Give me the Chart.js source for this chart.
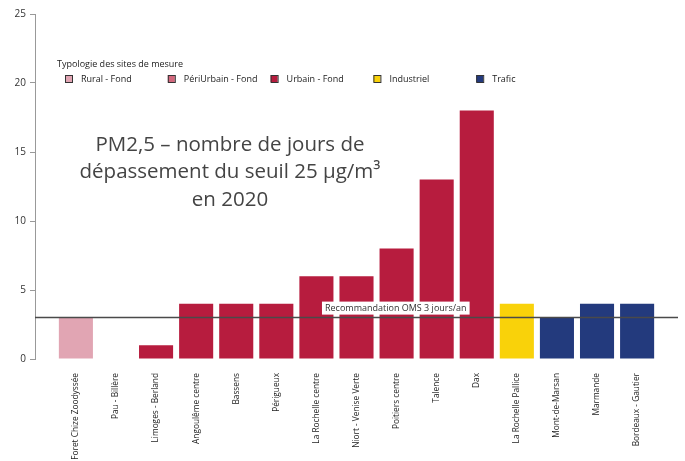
<!DOCTYPE html>
<html>
<head>
<meta charset="utf-8">
<script src="https://cdn.jsdelivr.net/npm/chart.js@4.4.1/dist/chart.umd.min.js"></script>
<style>
  html, body { margin: 0; padding: 0; background: #fff; }
  #wrap { width: 685px; height: 461px; position: relative; }
</style>
</head>
<body>
<div id="wrap"><canvas id="pm25"></canvas></div>
<script>
// Données
const sites = [
    'Foret Chize Zoodyssée', 'Pau - Billère', 'Limoges - Berland', 'Angoulême centre',
    'Bassens', 'Périgueux', 'La Rochelle centre', 'Niort - Venise Verte',
    'Poitiers centre', 'Talence', 'Dax', 'La Rochelle Pallice',
    'Mont-de-Marsan', 'Marmande', 'Bordeaux - Gautier'
];
const joursDepassement = [3, 0, 1, 4, 4, 4, 6, 6, 8, 13, 18, 4, 3, 4, 4];
const typologieSite = [0, 1, 2, 2, 2, 2, 2, 2, 2, 2, 2, 3, 4, 4, 4];
const typologies = ['Rural - Fond', 'PériUrbain - Fond', 'Urbain - Fond', 'Industriel', 'Trafic'];
const couleursTypo = ['#e1a5b3', '#d3677c', '#b71c3e', '#f9d20a', '#233a7d'];
const yTicks = [0, 5, 10, 15, 20, 25];
const seuilOms = 3;
const seuilLabel = 'Recommandation OMS 3 jours/an';
const titre = ['PM2,5 – nombre de jours de', 'dépassement du seuil 25 µg/m³', 'en 2020'];
const legendeTitre = 'Typologie des sites de mesure';

const FONT = "'Open Sans', 'Noto Sans', sans-serif";

const decorations = {
    id: 'decorations',
    afterDatasetsDraw(chart) {
        const { ctx, chartArea, scales } = chart;
        const y = scales.y.getPixelForValue(seuilOms);

        ctx.save();
        // ligne OMS
        ctx.strokeStyle = '#4a4a4a';
        ctx.lineWidth = 1.5;
        ctx.beginPath();
        ctx.moveTo(chartArea.left, y);
        ctx.lineTo(chartArea.right, y);
        ctx.stroke();

        ctx.font = '9px ' + FONT;
        const lx = scales.x.getPixelForValue(7.98);
        const w = ctx.measureText(seuilLabel).width + 6;
        ctx.fillStyle = '#fff';
        ctx.fillRect(lx - w / 2, y - 16, w, 13);
        ctx.fillStyle = '#333';
        ctx.textAlign = 'center';
        ctx.textBaseline = 'middle';
        ctx.fillText(seuilLabel, lx, y - 9.5);

        // titre
        ctx.font = '20.5px ' + FONT;
        ctx.fillStyle = '#444';
        titre.forEach((t, i) => ctx.fillText(t, 230, 145 + i * 27.5));

        // légende
        ctx.font = '9px ' + FONT;
        ctx.textAlign = 'left';
        ctx.fillStyle = '#222';
        ctx.fillText(legendeTitre, 57, 64);
        typologies.forEach((t, i) => {
            const bx = 65 + i * 102.8;
            ctx.fillStyle = couleursTypo[i];
            ctx.fillRect(bx, 75, 7, 7);
            ctx.strokeStyle = '#333';
            ctx.lineWidth = 1;
            ctx.strokeRect(bx + 0.5, 75.5, 7, 7);
            ctx.fillStyle = '#222';
            ctx.fillText(t, bx + 16, 79.5);
        });
        ctx.restore();
    }
};

new Chart(document.getElementById('pm25'), {
    type: 'bar',
    data: {
        datasets: [{
            data: joursDepassement.map((v, i) => ({ x: i, y: v })),
            backgroundColor: typologieSite.map(t => couleursTypo[t]),
            borderWidth: 0,
            categoryPercentage: 0.85,
            barPercentage: 1
        }]
    },
    options: {
        responsive: true,
        maintainAspectRatio: false,
        animation: false,
        layout: { padding: { top: 14, right: 7, bottom: 0, left: 0 } },
        plugins: {
            legend: { display: false },
            tooltip: { enabled: false }
        },
        scales: {
            x: {
                type: 'linear',
                min: -1.02,
                max: 15.02,
                offset: false,
                grid: { display: false, offset: false },
                border: { display: false },
                afterBuildTicks: axis => { axis.ticks = sites.map((_, i) => ({ value: i })); },
                afterFit: axis => {
                    axis.height = 102;
                    axis.paddingLeft = 0;
                    axis.paddingRight = 0;
                },
                ticks: {
                    autoSkip: false,
                    minRotation: 90,
                    maxRotation: 90,
                    padding: 6,
                    color: '#222',
                    font: { family: FONT, size: 8.3 },
                    callback: v => sites[v] ?? ''
                }
            },
            y: {
                min: 0,
                max: 25,
                afterBuildTicks: axis => { axis.ticks = yTicks.map(v => ({ value: v })); },
                afterFit: axis => { axis.width = 35; },
                grid: { drawOnChartArea: false, drawTicks: true, tickLength: 5, color: '#999' },
                border: { display: true, color: '#999', width: 1 },
                ticks: {
                    padding: 4,
                    color: '#333',
                    font: { family: FONT, size: 10 }
                }
            }
        }
    },
    plugins: [decorations]
});
</script>
</body>
</html>
